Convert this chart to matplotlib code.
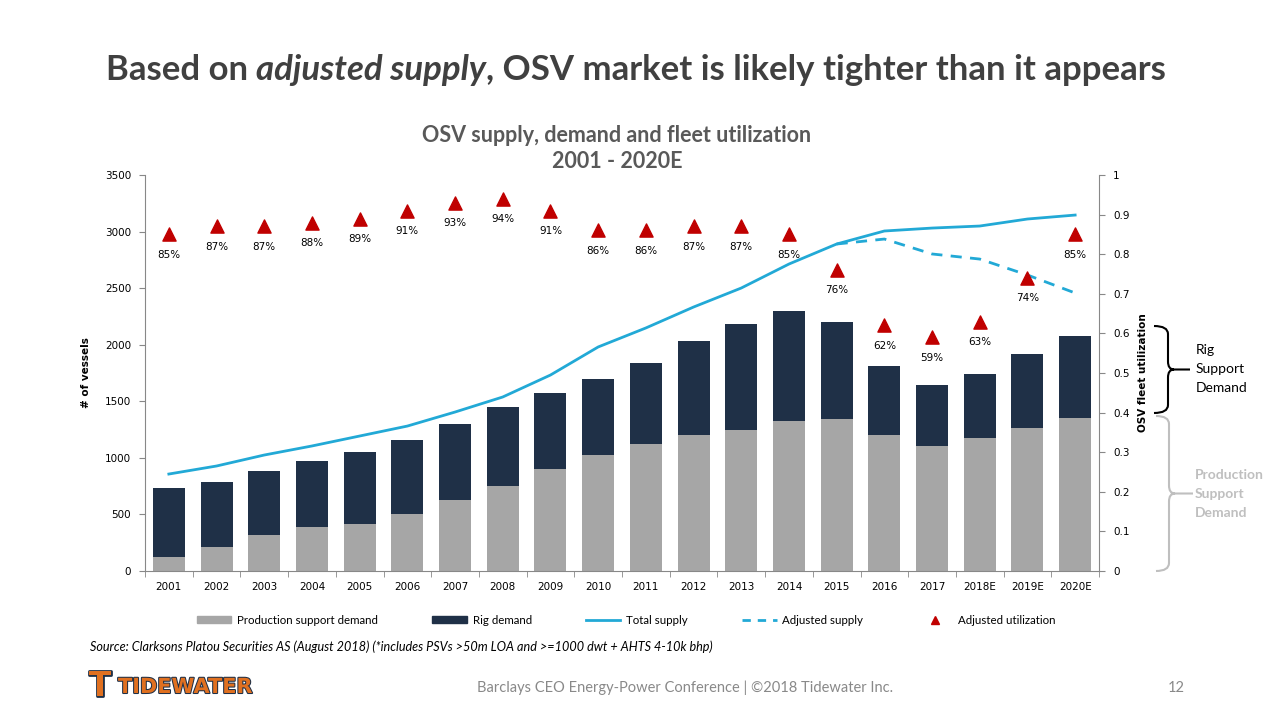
import numpy as np
import matplotlib
matplotlib.use("Agg")
import matplotlib.pyplot as plt
from matplotlib.path import Path
from matplotlib.patches import PathPatch, Patch
from matplotlib.lines import Line2D
import matplotlib.patheffects as pe

#%% Data
years = ['2001', '2002', '2003', '2004', '2005', '2006', '2007', '2008', '2009', '2010',
         '2011', '2012', '2013', '2014', '2015', '2016', '2017', '2018E', '2019E', '2020E']
production_demand = [124, 212, 318, 389, 415, 504, 627, 751, 901, 1025,
                     1122, 1205, 1246, 1326, 1343, 1205, 1108, 1175, 1264, 1355]
total_demand = [733, 787, 884, 972, 1052, 1158, 1299, 1449, 1573, 1697,
                1838, 2033, 2183, 2298, 2200, 1812, 1644, 1741, 1918, 2077]
rig_demand = [t - p for t, p in zip(total_demand, production_demand)]
total_supply = [857, 928, 1025, 1105, 1193, 1281, 1405, 1538, 1732, 1980,
                2148, 2333, 2501, 2713, 2890, 3005, 3031, 3049, 3111, 3146]
adj_years = ['2015', '2016', '2017', '2018E', '2019E', '2020E']
adjusted_supply = [2890, 2934, 2802, 2757, 2616, 2457]
adjusted_util = [0.85, 0.87, 0.87, 0.88, 0.89, 0.91, 0.93, 0.94, 0.91, 0.86,
                 0.86, 0.87, 0.87, 0.85, 0.76, 0.62, 0.59, 0.63, 0.74, 0.85]

GREY = '#A6A6A6'
NAVY = '#1F3047'
BLUE = '#22A9D6'
RED = '#C00000'
TXT = '#404040'

W, H = 1280, 720
fig = plt.figure(figsize=(12.8, 7.2), dpi=100)
fig.patch.set_facecolor('white')

def px(x0, y0, x1, y1):
    # pixel box (left, top, right, bottom) -> figure fraction rect
    return [x0 / W, 1 - y1 / H, (x1 - x0) / W, (y1 - y0) / H]

ax = fig.add_axes(px(145, 175, 1099, 571))
x = np.arange(len(years))
ax.bar(x, production_demand, width=0.67, color=GREY, label='Production support demand', zorder=2)
ax.bar(x, rig_demand, bottom=production_demand, width=0.67, color=NAVY, label='Rig demand', zorder=2)
ax.plot(x, total_supply, color=BLUE, lw=2, label='Total supply', zorder=3)
xa = [years.index(y) for y in adj_years]
ax.plot(xa, adjusted_supply, color=BLUE, lw=2, ls=(0, (4, 3)), label='Adjusted supply', zorder=3)

ax.set_xlim(-0.5, len(years) - 0.5)
ax.set_ylim(0, 3500)
ax.set_yticks(range(0, 3501, 500))
ax.set_xticks(x)
ax.set_xticklabels(years)
ax.set_xticks(np.arange(-0.5, len(years)), minor=True)
ax.tick_params(axis='x', which='major', length=0, pad=8)
ax.tick_params(axis='x', which='minor', length=4, color='#888888')
ax.tick_params(axis='y', length=4, color='#888888', pad=6)
ax.tick_params(labelsize=7.5, labelcolor='black')
for s in ['top', 'right']:
    ax.spines[s].set_visible(False)
for s in ['left', 'bottom']:
    ax.spines[s].set_color('#888888')
ax.set_ylabel('# of vessels', fontsize=7.5, fontweight='bold', labelpad=10)

ax2 = ax.twinx()
ax2.set_ylim(0, 1)
ax2.set_yticks(np.arange(0, 1.01, 0.1))
ax2.set_yticklabels(['0'] + ['%.1f' % v for v in np.arange(0.1, 0.95, 0.1)] + ['1'])
ax2.tick_params(axis='y', length=4, color='#888888', labelsize=7.5, pad=6)
for s in ['top', 'left', 'bottom']:
    ax2.spines[s].set_visible(False)
ax2.spines['right'].set_color('#888888')
ax2.set_ylabel('OSV fleet utilization', fontsize=7.5, fontweight='bold', labelpad=6)
ax2.scatter(x, adjusted_util, marker='^', s=90, color=RED, zorder=4, label='Adjusted utilization')
for xi, u in zip(x, adjusted_util):
    ax2.annotate('%d%%' % round(u * 100), (xi, u), xytext=(0, -11), textcoords='offset points',
                 ha='center', va='top', fontsize=7.5)

# Legend
handles = [Patch(color=GREY), Patch(color=NAVY),
           Line2D([], [], color=BLUE, lw=2),
           Line2D([], [], color=BLUE, lw=2, ls=(0, (3, 2.5))),
           Line2D([], [], color=RED, marker='^', ls='none', markersize=6)]
labels = ['Production support demand', 'Rig demand', 'Total supply', 'Adjusted supply', 'Adjusted utilization']
fig.legend(handles, labels, loc='center', bbox_to_anchor=(626 / W, 1 - 620 / H), ncol=5,
           frameon=False, handlelength=3, handleheight=0.5, handletextpad=0.5,
           columnspacing=4.7, prop={'family': 'Lato', 'size': 8.3})

# Overlay axis in pixel units for slide text and braces
ov = fig.add_axes([0, 0, 1, 1], zorder=-1)
ov.set_xlim(0, W)
ov.set_ylim(H, 0)
ov.axis('off')

# Title built from three pieces so the middle one can be bold italic
parts = [('Based on ', 'normal'), ('adjusted supply', 'italic'),
         (', OSV market is likely tighter than it appears', 'normal')]
renderer = fig.canvas.get_renderer()
objs, widths = [], []
for s, st in parts:
    t = ov.text(0, 70, s, ha='left', va='center', fontsize=25, fontweight='bold', style=st,
                color=TXT, family='Lato')
    bb = t.get_window_extent(renderer=renderer)
    objs.append(t)
    widths.append(bb.width)
xpos = 636 - sum(widths) / 2
for t, w in zip(objs, widths):
    t.set_x(xpos)
    xpos += w

ov.text(617, 135, 'OSV supply, demand and fleet utilization', ha='center', va='center',
        fontsize=15.5, fontweight='bold', color='#595959', family='Lato')
ov.text(617, 162, '2001 - 2020E', ha='center', va='center',
        fontsize=15.5, fontweight='bold', color='#595959', family='Lato')

def brace(y_top, y_bot, x_hook, x_mid, x_tip, color):
    ym = (y_top + y_bot) / 2
    r = 8
    verts = [(x_hook, y_top), (x_mid, y_top), (x_mid, y_top + r),
             (x_mid, ym - r), (x_mid, ym), (x_mid + 6, ym),
             (x_tip, ym), (x_mid + 6, ym),
             (x_mid, ym), (x_mid, ym + r),
             (x_mid, y_bot - r), (x_mid, y_bot), (x_hook, y_bot)]
    codes = [Path.MOVETO, Path.CURVE3, Path.CURVE3,
             Path.LINETO, Path.CURVE3, Path.CURVE3,
             Path.LINETO, Path.MOVETO,
             Path.CURVE3, Path.CURVE3,
             Path.LINETO, Path.CURVE3, Path.CURVE3]
    ov.add_patch(PathPatch(Path(verts, codes), fc='none', ec=color, lw=1.5))

brace(326, 413, 1154, 1168, 1190, 'black')
brace(416, 571, 1156, 1169, 1193, '#BFBFBF')
for i, t in enumerate(['Rig', 'Support', 'Demand']):
    ov.text(1196, 350 + i * 19, t, ha='left', va='center', fontsize=10, color='black', family='Lato')
for i, t in enumerate(['Production', 'Support', 'Demand']):
    ov.text(1195, 475 + i * 19, t, ha='left', va='center', fontsize=10, fontweight='bold',
            color='#BFBFBF', family='Lato')

ov.text(90, 647, 'Source: Clarksons Platou Securities AS (August 2018) (*includes PSVs >50m LOA and >=1000 dwt + AHTS 4-10k bhp)',
        ha='left', va='center', fontsize=9.1, style='italic', color='black', family='Lato')

# Footer
ov.text(100, 686, 'T', ha='center', va='center', fontsize=26, fontweight='bold', color='#E07020',
        family='Liberation Sans', path_effects=[pe.withStroke(linewidth=2, foreground=NAVY)])
ov.text(118, 687, 'TIDEWATER', ha='left', va='center', fontsize=15, fontweight='bold', color='#E07020',
        family='Liberation Sans Narrow', path_effects=[pe.withStroke(linewidth=1.5, foreground=NAVY)])
ov.text(685, 688, 'Barclays CEO Energy-Power Conference | \u00a92018 Tidewater Inc.', ha='center', va='center',
        fontsize=10.5, color='#898989', family='Lato')
ov.text(1176, 688, '12', ha='center', va='center', fontsize=10.5, color='#898989', family='Lato')

fig.savefig('out.png', dpi=100)
